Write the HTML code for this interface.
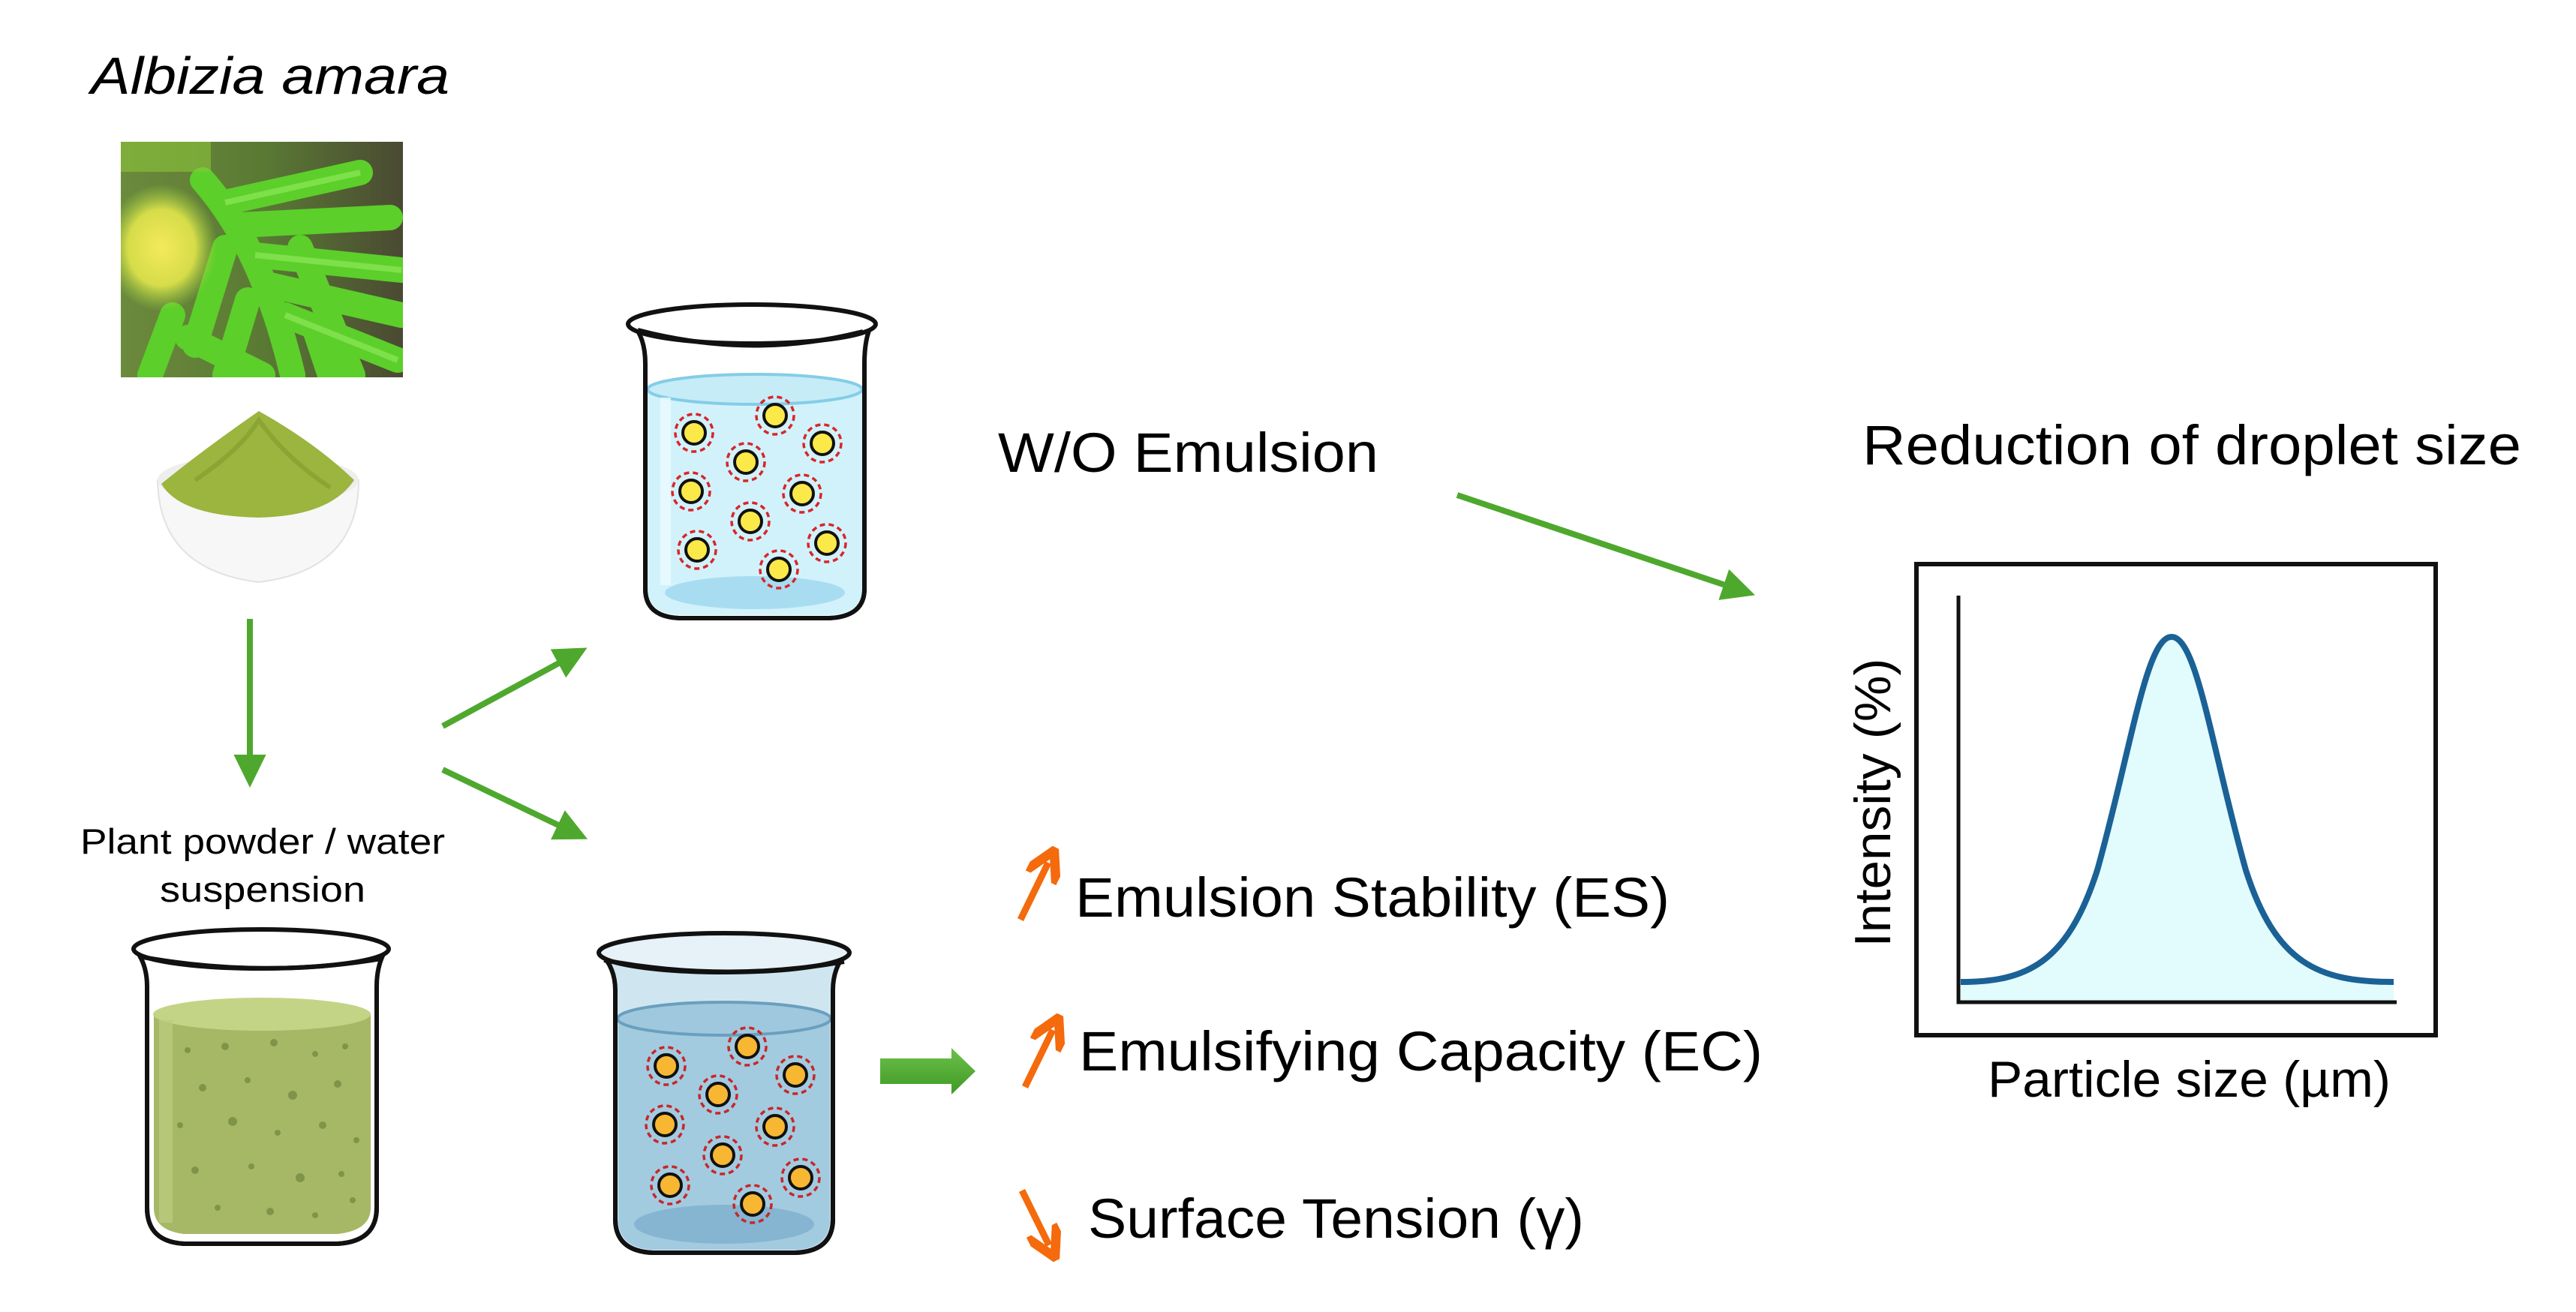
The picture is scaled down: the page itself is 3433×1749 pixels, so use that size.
<!DOCTYPE html>
<html><head><meta charset="utf-8"><style>
html,body{margin:0;padding:0;background:#fff}
svg{display:block}
text{font-family:"Liberation Sans",sans-serif;fill:#000}
</style></head><body>
<svg width="3433" height="1749" viewBox="0 0 3433 1749" xmlns="http://www.w3.org/2000/svg">
<defs>
<marker id="ga" markerWidth="6" markerHeight="6" refX="3" refY="3" orient="auto" markerUnits="strokeWidth"><path d="M0,0.3 L5.5,3 L0,5.7 Z" fill="#4fa82e"/></marker>
<marker id="oa" markerWidth="5" markerHeight="5" refX="2.5" refY="2.5" orient="auto" markerUnits="strokeWidth"><path d="M0,0 L4.5,2.5 L0,5" fill="none" stroke="#f46a0c" stroke-width="1.4"/></marker>
<linearGradient id="bg" x1="0" y1="0" x2="1" y2="0"><stop offset="0" stop-color="#6c8a3c"/><stop offset="0.5" stop-color="#5a7a34"/><stop offset="1" stop-color="#4a4a32"/></linearGradient>
<radialGradient id="fl" cx="0.5" cy="0.5" r="0.5"><stop offset="0" stop-color="#f4ea5a"/><stop offset="0.6" stop-color="#d6dc4a"/><stop offset="1" stop-color="#9cd040" stop-opacity="0"/></radialGradient>
<linearGradient id="arw" x1="0" y1="0" x2="0" y2="1"><stop offset="0" stop-color="#6cc04a"/><stop offset="1" stop-color="#3f9a25"/></linearGradient>
<clipPath id="ph"><rect x="161" y="189" width="376" height="314"/></clipPath>
</defs>

<text x="121" y="125" font-size="70" font-style="italic" textLength="478" lengthAdjust="spacingAndGlyphs">Albizia amara</text>

<g clip-path="url(#ph)">
<rect x="161" y="189" width="376" height="314" fill="url(#bg)"/>
<g stroke="#5ccf2a" stroke-width="34" stroke-linecap="round" fill="none">
<path d="M270 240 Q 350 330 390 500"/>
<path d="M300 270 L 480 230"/><path d="M320 300 L 520 290"/><path d="M340 340 L 535 360"/>
<path d="M360 380 L 535 420"/><path d="M380 420 L 530 480"/><path d="M300 330 L 260 460"/>
<path d="M330 400 L 300 500"/><path d="M400 330 L 470 500"/><path d="M230 420 L 200 500"/>
<path d="M250 450 L 350 500"/><path d="M420 440 L 440 500"/>
</g>
<g stroke="#7ee04a" stroke-width="8" fill="none"><path d="M300 270 L 480 230"/><path d="M340 340 L 535 360"/><path d="M380 420 L 530 480"/></g>
<ellipse cx="215" cy="330" rx="75" ry="85" fill="url(#fl)"/>
<rect x="161" y="189" width="120" height="40" fill="#8bc43a" opacity="0.6"/>
</g>

<path d="M210 640 Q 340 610 478 640 Q 478 760 345 776 Q 212 760 210 640 Z" fill="#f7f7f7" stroke="#e2e2e2" stroke-width="2"/>
<ellipse cx="344" cy="640" rx="134" ry="34" fill="#eeeeee"/>
<path d="M215 645 Q 270 600 345 548 Q 420 590 472 640 Q 440 688 345 690 Q 240 688 215 645 Z" fill="#9bb53e"/>
<path d="M260 640 Q 320 600 345 560 Q 380 610 440 650" fill="none" stroke="#7f9b2f" stroke-width="6" opacity="0.6"/>

<line x1="333" y1="825" x2="333" y2="1030" stroke="#4fa82e" stroke-width="8" marker-end="url(#ga)"/>
<line x1="590" y1="968" x2="765" y2="873" stroke="#4fa82e" stroke-width="8" marker-end="url(#ga)"/>
<line x1="590" y1="1026" x2="765" y2="1110" stroke="#4fa82e" stroke-width="8" marker-end="url(#ga)"/>

<text x="350" y="1138" font-size="47" text-anchor="middle" textLength="486" lengthAdjust="spacingAndGlyphs">Plant powder / water</text>
<text x="350" y="1202" font-size="47" text-anchor="middle" textLength="274" lengthAdjust="spacingAndGlyphs">suspension</text>

<g>
<path d="M843 432 Q 860 450 860 485 L 860 785 Q 860 822 905 824 L 1105 824 Q 1152 822 1152 785 L 1152 485 Q 1152 450 1162 432" fill="#fff" stroke="#111" stroke-width="6"/>
<path d="M863 519 L 863 785 Q 863 818 905 820 L 1105 820 Q 1149 818 1149 785 L 1149 519 Z" fill="#d2f2fb"/>
<ellipse cx="1006" cy="519" rx="143" ry="20" fill="#c6ecf8" stroke="#84cde6" stroke-width="4"/>
<ellipse cx="1006" cy="790" rx="120" ry="22" fill="#a8ddf1"/>
<rect x="880" y="530" width="14" height="250" fill="#eafaff" opacity="0.8"/>
<path d="M860 485 L 860 785 Q 860 822 905 824 L 1105 824 Q 1152 822 1152 785 L 1152 485" fill="none" stroke="#111" stroke-width="6"/>
<ellipse cx="1002" cy="432" rx="165" ry="26" fill="#fff" stroke="#111" stroke-width="6"/>
<path d="M850 440 Q 1002 480 1150 442" fill="none" stroke="#111" stroke-width="6"/>
<g fill="#fbe94a" stroke="#111" stroke-width="4">
<circle cx="925" cy="577" r="15"/><circle cx="1033" cy="554" r="15"/><circle cx="1096" cy="591" r="15"/><circle cx="994" cy="616" r="15"/><circle cx="921" cy="655" r="15"/><circle cx="1069" cy="658" r="15"/><circle cx="1000" cy="695" r="15"/><circle cx="929" cy="733" r="15"/><circle cx="1102" cy="724" r="15"/><circle cx="1038" cy="759" r="15"/>
</g>
<g fill="none" stroke="#d8262a" stroke-width="3.5" stroke-dasharray="7 5">
<circle cx="925" cy="577" r="25"/><circle cx="1033" cy="554" r="25"/><circle cx="1096" cy="591" r="25"/><circle cx="994" cy="616" r="25"/><circle cx="921" cy="655" r="25"/><circle cx="1069" cy="658" r="25"/><circle cx="1000" cy="695" r="25"/><circle cx="929" cy="733" r="25"/><circle cx="1102" cy="724" r="25"/><circle cx="1038" cy="759" r="25"/>
</g>
</g>

<g>
<path d="M180 1265 Q 196 1285 196 1315 L 196 1610 Q 196 1655 245 1658 L 450 1658 Q 502 1655 502 1610 L 502 1315 Q 502 1285 515 1265" fill="#fff" stroke="#111" stroke-width="6"/>
<path d="M205 1352 L 205 1610 Q 205 1640 245 1645 L 450 1645 Q 494 1640 494 1610 L 494 1352 Z" fill="#a6b866"/>
<ellipse cx="349" cy="1352" rx="145" ry="22" fill="#c4d486"/>
<rect x="212" y="1360" width="18" height="270" fill="#bccb80" opacity="0.8"/>
<g fill="#7f9448">
<circle cx="250" cy="1400" r="4"/><circle cx="300" cy="1395" r="5"/><circle cx="365" cy="1390" r="5"/><circle cx="420" cy="1405" r="4"/><circle cx="460" cy="1395" r="4"/><circle cx="270" cy="1450" r="5"/><circle cx="330" cy="1440" r="4"/><circle cx="390" cy="1460" r="6"/><circle cx="450" cy="1445" r="5"/><circle cx="240" cy="1500" r="4"/><circle cx="310" cy="1495" r="6"/><circle cx="370" cy="1510" r="4"/><circle cx="430" cy="1500" r="5"/><circle cx="475" cy="1520" r="4"/><circle cx="260" cy="1560" r="5"/><circle cx="335" cy="1555" r="4"/><circle cx="400" cy="1570" r="6"/><circle cx="455" cy="1565" r="4"/><circle cx="290" cy="1610" r="4"/><circle cx="360" cy="1615" r="5"/><circle cx="420" cy="1620" r="4"/><circle cx="470" cy="1600" r="4"/>
</g>
<path d="M196 1315 L 196 1610 Q 196 1655 245 1658 L 450 1658 Q 502 1655 502 1610 L 502 1315" fill="none" stroke="#111" stroke-width="6"/>
<ellipse cx="348" cy="1265" rx="170" ry="26" fill="#fff" stroke="#111" stroke-width="6"/>
<path d="M185 1275 Q 348 1305 508 1278" fill="none" stroke="#111" stroke-width="6"/>
</g>

<g>
<path d="M800 1270 Q 820 1290 820 1320 L 820 1625 Q 820 1668 870 1670 L 1060 1670 Q 1110 1668 1110 1625 L 1110 1320 Q 1110 1290 1128 1270" fill="#cfe6f1" stroke="#111" stroke-width="6"/>
<path d="M824 1358 L 824 1625 Q 824 1664 870 1666 L 1060 1666 Q 1106 1664 1106 1625 L 1106 1358 Z" fill="#a3cbe0"/>
<ellipse cx="965" cy="1358" rx="142" ry="22" fill="#9fc8de" stroke="#6a9fbe" stroke-width="4"/>
<ellipse cx="965" cy="1632" rx="120" ry="26" fill="#86b5d2"/>
<path d="M820 1320 L 820 1625 Q 820 1668 870 1670 L 1060 1670 Q 1110 1668 1110 1625 L 1110 1320" fill="none" stroke="#111" stroke-width="6"/>
<ellipse cx="965" cy="1270" rx="167" ry="26" fill="#e6f2f8" stroke="#111" stroke-width="6"/>
<path d="M805 1280 Q 965 1310 1125 1282" fill="none" stroke="#111" stroke-width="6"/>
<g fill="#f8b732" stroke="#111" stroke-width="4">
<circle cx="888" cy="1421" r="15"/><circle cx="996" cy="1395" r="15"/><circle cx="1060" cy="1433" r="15"/><circle cx="957" cy="1459" r="15"/><circle cx="886" cy="1499" r="15"/><circle cx="1033" cy="1502" r="15"/><circle cx="963" cy="1540" r="15"/><circle cx="893" cy="1580" r="15"/><circle cx="1067" cy="1570" r="15"/><circle cx="1003" cy="1605" r="15"/>
</g>
<g fill="none" stroke="#c8262a" stroke-width="3.5" stroke-dasharray="7 5">
<circle cx="888" cy="1421" r="25"/><circle cx="996" cy="1395" r="25"/><circle cx="1060" cy="1433" r="25"/><circle cx="957" cy="1459" r="25"/><circle cx="886" cy="1499" r="25"/><circle cx="1033" cy="1502" r="25"/><circle cx="963" cy="1540" r="25"/><circle cx="893" cy="1580" r="25"/><circle cx="1067" cy="1570" r="25"/><circle cx="1003" cy="1605" r="25"/>
</g>
</g>

<path d="M1173 1411 L 1268 1411 L 1268 1397 L 1300 1428 L 1268 1459 L 1268 1445 L 1173 1445 Z" fill="url(#arw)"/>

<text x="1330" y="629" font-size="74" textLength="507" lengthAdjust="spacingAndGlyphs">W/O Emulsion</text>
<line x1="1942" y1="660" x2="2320" y2="787" stroke="#4fa82e" stroke-width="8" marker-end="url(#ga)"/>

<text x="1433" y="1222" font-size="74" textLength="792" lengthAdjust="spacingAndGlyphs">Emulsion Stability (ES)</text>
<text x="1438" y="1427" font-size="74" textLength="911" lengthAdjust="spacingAndGlyphs">Emulsifying Capacity (EC)</text>
<text x="1450" y="1650" font-size="74" textLength="661" lengthAdjust="spacingAndGlyphs">Surface Tension (γ)</text>

<line x1="1360" y1="1226" x2="1397" y2="1150" stroke="#f46a0c" stroke-width="9" marker-end="url(#oa)"/>
<line x1="1366" y1="1449" x2="1403" y2="1373" stroke="#f46a0c" stroke-width="9" marker-end="url(#oa)"/>
<line x1="1362" y1="1587" x2="1398" y2="1660" stroke="#f46a0c" stroke-width="9" marker-end="url(#oa)"/>

<text x="2482" y="619" font-size="74" textLength="878" lengthAdjust="spacingAndGlyphs">Reduction of droplet size</text>
<rect x="2554" y="752" width="692" height="628" fill="#fff" stroke="#111" stroke-width="6"/>
<path d="M2613 1309 C 2700 1309 2755 1285 2795 1160 C 2840 1000 2860 849 2894 849 C 2928 849 2948 1000 2993 1160 C 3033 1285 3090 1309 3190 1309 L 3190 1334 L 2613 1334 Z" fill="#e2fbfd"/>
<path d="M2613 1309 C 2700 1309 2755 1285 2795 1160 C 2840 1000 2860 849 2894 849 C 2928 849 2948 1000 2993 1160 C 3033 1285 3090 1309 3190 1309" fill="none" stroke="#1a6196" stroke-width="8"/>
<path d="M2610 794 L 2610 1336 L 3194 1336" fill="none" stroke="#111" stroke-width="5"/>
<text transform="translate(2519 1070) rotate(-90)" font-size="68" text-anchor="middle" textLength="385" lengthAdjust="spacingAndGlyphs">Intensity (%)</text>
<text x="2649" y="1462" font-size="68" textLength="537" lengthAdjust="spacingAndGlyphs">Particle size (µm)</text>
</svg>
</body></html>
